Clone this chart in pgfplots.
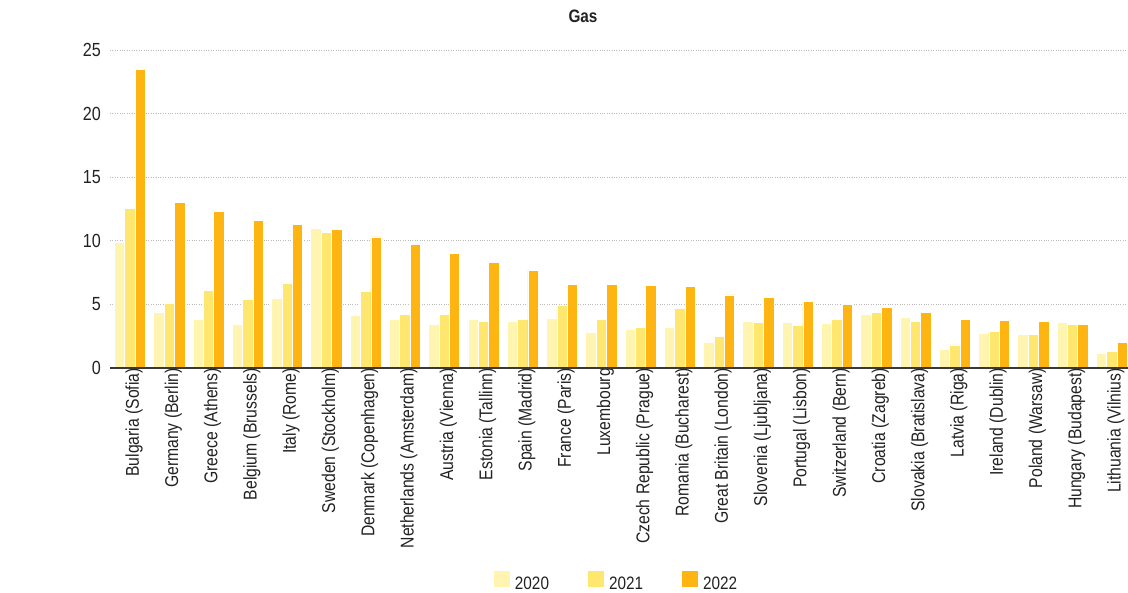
\documentclass[border=0pt]{standalone}
\usepackage{fontspec}
\setmainfont{Liberation Sans}[FakeStretch=0.85]
\usepackage{pgfplots}
\pgfplotsset{compat=1.18}

\definecolor{yrA}{HTML}{FFF5B0}
\definecolor{yrB}{HTML}{FFE66E}
\definecolor{yrC}{HTML}{FFB511}
\definecolor{txt}{HTML}{222222}
\definecolor{gridc}{HTML}{BBBBBB}

\begin{document}
\begin{tikzpicture}
\begin{axis}[
  scale only axis,
  width=1018pt, height=318pt,
  xmin=-0.51, xmax=25.41,
  ymin=0, ymax=25,
  ybar=0pt, bar width=10.4pt,
  axis x line*=bottom,
  axis y line*=left,
  y axis line style={draw=none},
  x axis line style={draw=none},
  tick style={draw=none},
  major tick length=0pt,
  ytick={5,10,15,20,25},
  extra y ticks={0},
  extra y tick style={grid=none},
  ymajorgrids,
  grid style={gridc, dotted, line width=0.8pt},
  /pgf/number format/assume math mode=true,
  yticklabel style={font=\fontsize{19}{21}\selectfont, text=txt, anchor=east, inner sep=0pt, xshift=-9pt},
  xtick=data,
  xticklabels={Bulgaria (Sofia), Germany (Berlin), Greece (Athens), Belgium (Brussels),
    Italy (Rome), Sweden (Stockholm), Denmark (Copenhagen), Netherlands (Amsterdam),
    Austria (Vienna), Estonia (Tallinn), Spain (Madrid), France (Paris), Luxembourg,
    Czech Republic (Prague), Romania (Bucharest), Great Britain (London),
    Slovenia (Ljubljana), Portugal (Lisbon), Switzerland (Bern), Croatia (Zagreb),
    Slovakia (Bratislava), Latvia (Riga), Ireland (Dublin), Poland (Warsaw),
    Hungary (Budapest), Lithuania (Vilnius)},
  xticklabel style={font=\fontsize{18.5}{20}\selectfont, text=txt, rotate=90, anchor=east, inner sep=0pt, yshift=-4pt},
  title={\bfseries Gas},
  title style={at={(0.4646,1)}, anchor=center, yshift=28pt, font=\fontsize{18}{20}\selectfont, text=txt},
  legend style={draw=none, fill=none, legend columns=3,
    at={(0.4966,-0.67)}, anchor=center,
    font=\fontsize{18}{20}\selectfont, text=txt,
    nodes={inner sep=0pt},
    /tikz/every odd column/.append style={column sep=5pt},
    /tikz/every even column/.append style={column sep=39pt}},
  legend image code/.code={\fill[#1, draw=none] (0pt,-3.5pt) rectangle (16pt,12.5pt);},
  every axis plot/.append style={draw=white, line width=0.7pt},
]
% 2020
\addplot[fill=yrA] coordinates {
 (0,9.90) (1,4.41) (2,3.83) (3,3.44) (4,5.51) (5,10.94) (6,4.15) (7,3.83) (8,3.44)
 (9,3.82) (10,3.66) (11,3.89) (12,2.79) (13,3.00) (14,3.16) (15,2.00) (16,3.63)
 (17,3.61) (18,3.53) (19,4.21) (20,3.95) (21,1.49) (22,2.70) (23,2.64) (24,3.56) (25,1.13)};
% 2021
\addplot[fill=yrB] coordinates {
 (0,12.57) (1,5.12) (2,6.12) (3,5.38) (4,6.64) (5,10.63) (6,6.04) (7,4.25) (8,4.25)
 (9,3.66) (10,3.82) (11,4.89) (12,3.79) (13,3.16) (14,4.71) (15,2.47) (16,3.60)
 (17,3.35) (18,3.85) (19,4.37) (20,3.69) (21,1.81) (22,2.85) (23,2.62) (24,3.40) (25,1.28)};
% 2022
\addplot[fill=yrC] coordinates {
 (0,23.44) (1,13.04) (2,12.34) (3,11.63) (4,11.31) (5,10.87) (6,10.31) (7,9.71) (8,8.98)
 (9,8.29) (10,7.68) (11,6.60) (12,6.55) (13,6.47) (14,6.42) (15,5.74) (16,5.53)
 (17,5.24) (18,5.03) (19,4.79) (20,4.37) (21,3.85) (22,3.72) (23,3.69) (24,3.40) (25,1.99)};
\legend{2020,2021,2022}
% baseline along the category axis
\draw[txt!90, line width=1.4pt] (rel axis cs:0,0) -- (rel axis cs:1,0);
\node[rotate=90, font=\bfseries\fontsize{18}{20}\selectfont, text=txt]
  at ([xshift=-92pt]rel axis cs:0,0.5) {\%};
\end{axis}
\pgfresetboundingbox
\path ([shift={(-110pt,-224pt)}]current axis.south west)
  rectangle ([shift={(0pt,50pt)}]current axis.north east);
\end{tikzpicture}
\end{document}
